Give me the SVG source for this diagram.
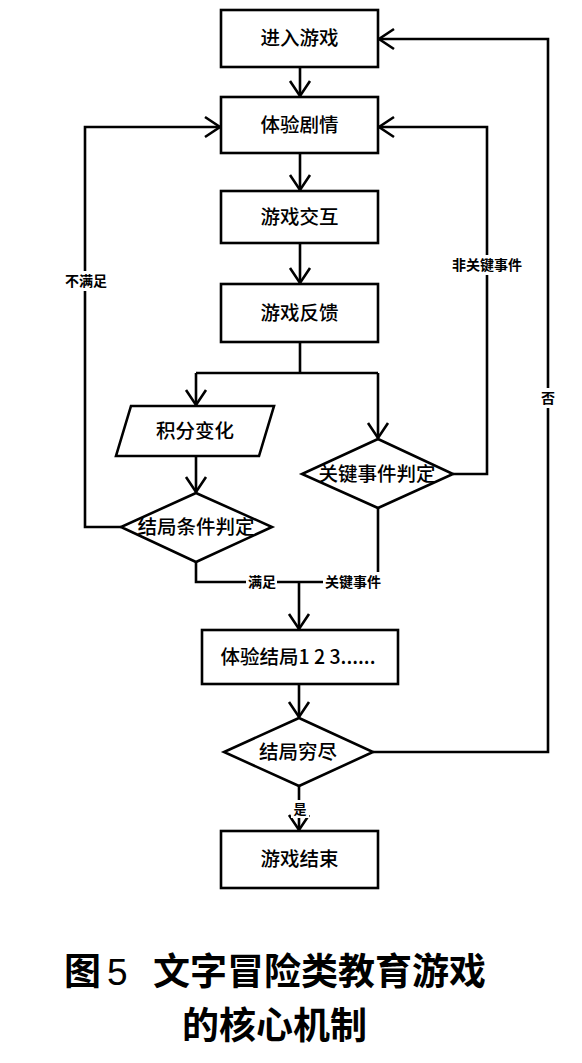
<svg xmlns="http://www.w3.org/2000/svg" width="582" height="1063" viewBox="0 0 582 1063">
<style>
.n{fill:#fff;stroke:#000;stroke-width:2.6}
.t{font-family:"Noto Sans CJK SC","Noto Sans",sans-serif;font-size:19.5px;font-weight:500;text-anchor:middle;fill:#000}
.l{font-family:"Noto Sans CJK SC","Noto Sans",sans-serif;font-size:14px;font-weight:bold;text-anchor:middle;fill:#000}
.c{fill:none;stroke:#000;stroke-width:2.6}
.bg{fill:#fff;stroke:none}
.cap{font-family:"Noto Sans CJK SC","Liberation Sans",sans-serif;font-size:37px;font-weight:bold;fill:#000}
</style>
<defs>
<marker id="a" markerUnits="userSpaceOnUse" markerWidth="40" markerHeight="40" viewBox="-20 -20 40 40" refX="0" refY="0" orient="auto" overflow="visible">
<path d="M-15,-10 L0,0 L-15,10" fill="none" stroke="#000" stroke-width="2.6" stroke-linejoin="miter"/>
</marker>
</defs>
<rect width="582" height="1063" fill="#fff"/>
<g id="connectors">
<path class="c" d="M300,67 V96" marker-end="url(#a)"/>
<path class="c" d="M300,153 V190" marker-end="url(#a)"/>
<path class="c" d="M300,243 V283" marker-end="url(#a)"/>
<path class="c" d="M300,342 V373 M196,373 H378"/>
<path class="c" d="M196,373 V405" marker-end="url(#a)"/>
<path class="c" d="M378,373 V438" marker-end="url(#a)"/>
<path class="c" d="M196,456 V492" marker-end="url(#a)"/>
<path class="c" d="M121,527 H85 V127 H220" marker-end="url(#a)"/>
<path class="c" d="M453,474 H487 V127 H379" marker-end="url(#a)"/>
<path class="c" d="M196,562 V582 H378 V508"/>
<path class="c" d="M299,582 V629" marker-end="url(#a)"/>
<path class="c" d="M299,684 V717" marker-end="url(#a)"/>
<path class="c" d="M373,752 H548 V39 H379" marker-end="url(#a)"/>
<path class="c" d="M299,786 V830" marker-end="url(#a)"/>
<rect class="bg" x="64" y="271" width="44" height="20"/>
<text class="l" x="86" y="286">不满足</text>
<rect class="bg" x="450" y="255" width="74" height="20"/>
<text class="l" x="487" y="270">非关键事件</text>
<rect class="bg" x="539" y="388" width="18" height="20"/>
<text class="l" x="548" y="403">否</text>
<rect class="bg" x="246" y="572" width="31" height="20"/>
<text class="l" x="262" y="587">满足</text>
<rect class="bg" x="323" y="572" width="60" height="20"/>
<text class="l" x="353" y="587">关键事件</text>
<rect class="bg" x="291" y="800" width="18" height="18"/>
<text class="l" x="300" y="814" style="font-size:13px">是</text>
</g>
<g id="n1"><rect class="n" x="221" y="10" width="157" height="57"/><text class="t" x="299.5" y="45">进入游戏</text></g>
<g id="n2"><rect class="n" x="221" y="97" width="157" height="56"/><text class="t" x="299.5" y="132">体验剧情</text></g>
<g id="n3"><rect class="n" x="221" y="191" width="157" height="52"/><text class="t" x="299.5" y="224">游戏交互</text></g>
<g id="n4"><rect class="n" x="221" y="284" width="157" height="58"/><text class="t" x="299.5" y="320">游戏反馈</text></g>
<g id="n5"><polygon class="n" points="131,406 274,406 259,456 116,456"/><text class="t" x="195" y="438">积分变化</text></g>
<g id="n6"><polygon class="n" points="196,493 272,527 196,562 121,527"/><text class="t" x="196" y="534">结局条件判定</text></g>
<g id="n7"><polygon class="n" points="378,439 453,474 378,508 302,474"/><text class="t" x="377" y="481">关键事件判定</text></g>
<g id="n8"><rect class="n" x="202" y="630" width="196" height="54"/><text class="t" x="298" y="664">体验结局1 2 3......</text></g>
<g id="n9"><polygon class="n" points="299,718 373,752 299,786 224,752"/><text class="t" x="298" y="759">结局穷尽</text></g>
<g id="n10"><rect class="n" x="221" y="831" width="157" height="57"/><text class="t" x="299.5" y="866">游戏结束</text></g>
<g id="caption">
<text class="cap" x="64" y="985">图</text>
<text class="cap" x="107" y="985" style="font-family:'Liberation Sans',sans-serif;font-weight:normal">5</text>
<text class="cap" x="153" y="985">文字冒险类教育游戏</text>
<text class="cap" x="182" y="1039">的核心机制</text>
</g>
</svg>
